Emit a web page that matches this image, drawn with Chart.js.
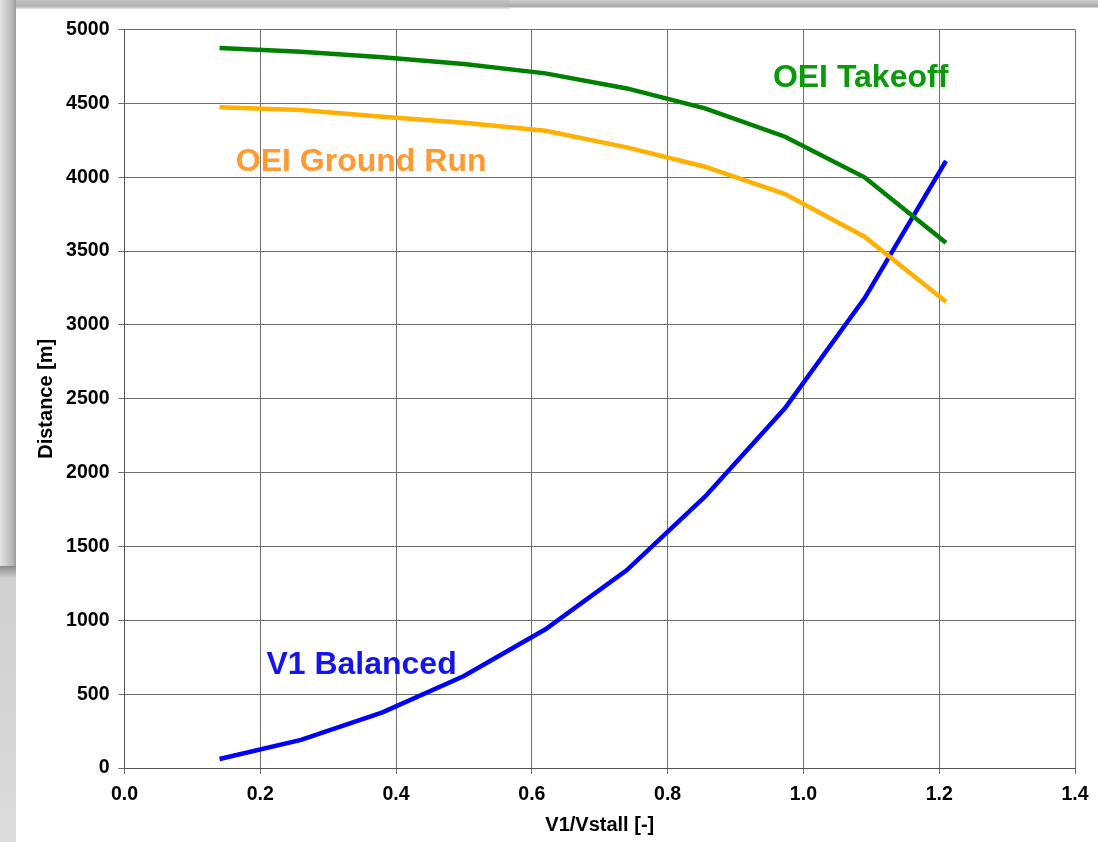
<!DOCTYPE html>
<html lang="en">
<head>
<meta charset="UTF-8">
<title>V1 balanced field length</title>
<script src="https://cdn.jsdelivr.net/npm/chart.js@4.4.0/dist/chart.umd.min.js"></script>
<style>
    body { margin: 0; background: #fff; font-family: 'Liberation Sans', Arial, sans-serif; }
    #wrap { position: relative; width: 1098px; height: 842px; overflow: hidden; }
    .shade { position: absolute; }
    canvas { position: absolute; left: 0; top: 0; }
</style>
</head>
<body>
<div id="wrap">
    <!-- slide edges behind the chart -->
    <div class="shade" style="left:0; top:0; width:510px; height:9px; background: linear-gradient(to bottom, #c4c4c4, #b0b0b0 70%, #ececec);"></div>
    <div class="shade" style="left:510px; top:0; width:588px; height:8px; background: linear-gradient(to bottom, #cfcfcf, #a9a9a9 80%, #e8e8e8);"></div>
    <div class="shade" style="left:0; top:0; width:16px; height:566px; background: linear-gradient(to right, #e4e4e4, #b4b4b4 80%, #9a9a9a);"></div>
    <div class="shade" style="left:0; top:566px; width:16px; height:276px; background: linear-gradient(to bottom, #8a8a8a, #cfcfcf 12px, #dcdcdc);"></div>
    <canvas id="chart" width="1098" height="842"></canvas>
</div>

<script>
    // V1/Vstall values
    var ratios = [0.14, 0.26, 0.38, 0.50, 0.62, 0.74, 0.855, 0.973, 1.09, 1.21];
    // distances [m]
    var oeiTakeoff = [4875, 4849, 4812, 4766, 4703, 4601, 4466, 4274, 3999, 3556];
    var oeiGroundRun = [4473, 4455, 4409, 4369, 4315, 4202, 4071, 3886, 3597, 3157];
    var v1Balanced = [61, 190, 377, 623, 939, 1340, 1837, 2437, 3180, 4111];

    // curve names written on the plot: [text, x, y, colour]
    var curveLabels = [
        ['OEI Takeoff', 0.955, 4612, '#0c990c'],
        ['OEI Ground Run', 0.164, 4044, '#ff9a33'],
        ['V1 Balanced', 0.209, 636, '#1414f0']
    ];

    function points(ys) {
        var out = [];
        for (var i = 0; i < ratios.length; i++) {
            out.push({ x: ratios[i], y: ys[i] });
        }
        return out;
    }

    var labelPlugin = {
        id: 'curveLabels',
        afterDatasetsDraw: function (chart) {
            var ctx = chart.ctx;
            var xs = chart.scales.x, ys = chart.scales.y;
            ctx.save();
            ctx.font = 'bold 32px "Liberation Sans", Arial, sans-serif';
            ctx.textAlign = 'left';
            ctx.textBaseline = 'alphabetic';
            curveLabels.forEach(function (l) {
                ctx.fillStyle = l[3];
                ctx.fillText(l[0], xs.getPixelForValue(l[1]), ys.getPixelForValue(l[2]));
            });
            ctx.restore();
        }
    };

    var tickFont = { family: "'Liberation Sans', Arial, sans-serif", size: 19.5, weight: 'bold' };
    var titleFont = { family: "'Liberation Sans', Arial, sans-serif", size: 20, weight: 'bold' };

    new Chart(document.getElementById('chart'), {
        type: 'line',
        data: {
            datasets: [
                { label: 'OEI Takeoff', data: points(oeiTakeoff), borderColor: '#008000', borderWidth: 4.5, pointRadius: 0, tension: 0 },
                { label: 'OEI Ground Run', data: points(oeiGroundRun), borderColor: '#ffb000', borderWidth: 4.5, pointRadius: 0, tension: 0 },
                { label: 'V1 Balanced', data: points(v1Balanced), borderColor: '#0000ff', borderWidth: 4.5, pointRadius: 0, tension: 0 }
            ]
        },
        options: {
            responsive: false,
            animation: false,
            layout: { padding: { top: 29.5, right: 23, bottom: 0, left: 0 } },
            plugins: {
                legend: { display: false },
                tooltip: { enabled: false }
            },
            scales: {
                x: {
                    type: 'linear',
                    min: 0,
                    max: 1.4,
                    ticks: {
                        stepSize: 0.2,
                        color: '#000',
                        font: tickFont,
                        padding: 9,
                        maxRotation: 0,
                        callback: function (v) { return v.toFixed(1); }
                    },
                    grid: { color: '#6e6e6e', lineWidth: 1, tickLength: 6, tickColor: '#6e6e6e' },
                    border: { display: true, color: '#555', width: 1 },
                    title: { display: true, text: 'V1/Vstall [-]', color: '#000', font: titleFont, padding: { top: 0, bottom: 5 } },
                    afterFit: function (scale) { scale.height = 74; }
                },
                y: {
                    min: 0,
                    max: 5000,
                    ticks: {
                        stepSize: 500,
                        color: '#000',
                        font: tickFont,
                        padding: 9,
                        callback: function (v) { return String(v); }
                    },
                    grid: { color: '#6e6e6e', lineWidth: 1, tickLength: 6, tickColor: '#6e6e6e' },
                    border: { display: true, color: '#555', width: 1 },
                    title: { display: true, text: 'Distance [m]', color: '#000', font: titleFont, padding: { top: 34, bottom: 0 } },
                    afterFit: function (scale) { scale.width = 124.5; }
                }
            }
        },
        plugins: [labelPlugin]
    });
</script>
</body>
</html>
